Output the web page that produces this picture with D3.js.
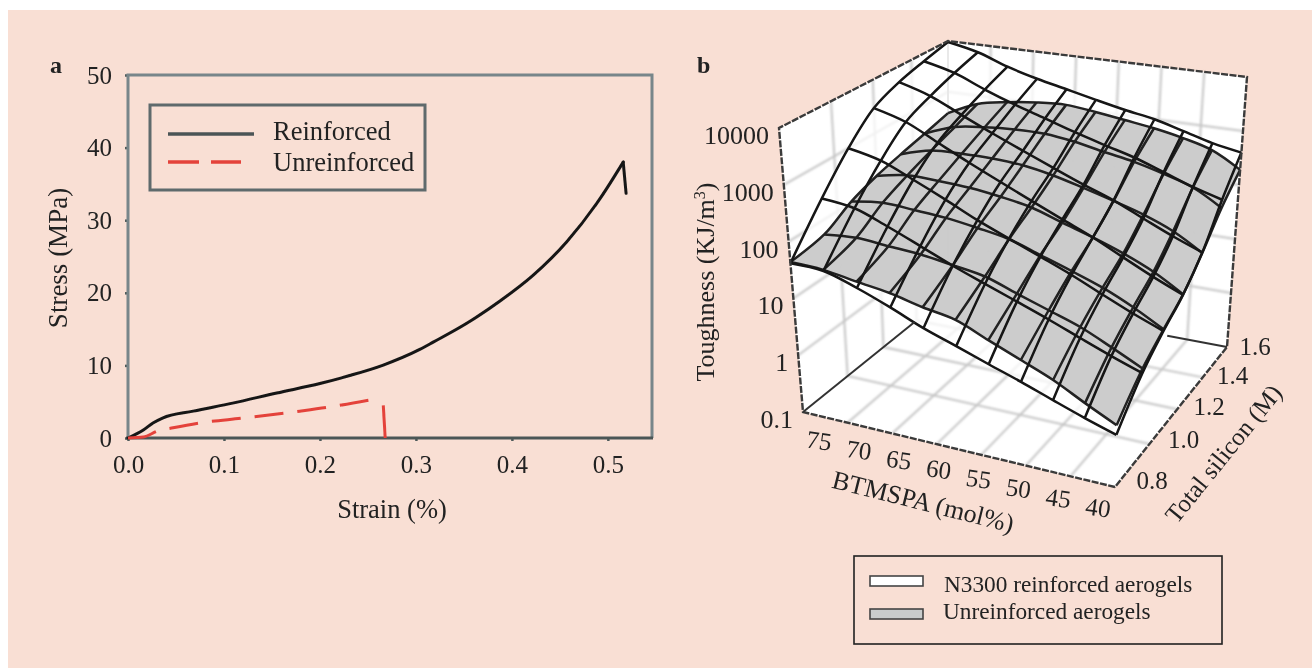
<!DOCTYPE html>
<html>
<head>
<meta charset="utf-8">
<script src="https://cdn.jsdelivr.net/npm/d3@7"></script>
<style>
  html, body { margin: 0; padding: 0; background: #fff; }
  svg { display: block; }
  text { font-family: "Liberation Serif", serif; fill: #222; }
</style>
</head>
<body>
<div id="chart"></div>
<script>
// Panel a: stress-strain curves
const reinforcedStrain = [0, 0.016, 0.026, 0.036, 0.068, 0.109, 0.155, 0.2, 0.231, 0.266, 0.304, 0.318, 0.353, 0.388, 0.422, 0.457, 0.492, 0.516, 0.519];
const reinforcedStress = [0, 1.1, 2.07, 2.75, 3.7, 4.8, 6.2, 7.5, 8.6, 10.05, 12.2, 13.2, 15.8, 18.9, 22.4, 27, 33, 38, 33.7];
const unreinforcedStrain = [0, 0.016, 0.031, 0.047, 0.075, 0.12, 0.179, 0.21, 0.257, 0.266, 0.268];
const unreinforcedStress = [0, 0.14, 0.96, 1.4, 2.07, 2.75, 3.7, 4.27, 5.37, 4.5, 0];
const strainTicks = [0, 0.1, 0.2, 0.3, 0.4, 0.5];
const stressTicks = [0, 10, 20, 30, 40, 50];

// Panel b: response surfaces, log10 of toughness (rows = silicon, columns = BTMSPA)
const btmspaGrid = [75, 71.5, 68, 64.5, 61, 57.5, 54, 50.5, 47, 43.5, 40];
const siliconGrid = [0.8, 0.933, 1.067, 1.2, 1.333, 1.467, 1.6];
const reinforcedLog = [
  [1.62, 1.60, 1.42, 1.20, 0.96, 0.77, 0.58, 0.40, 0.21, 0.03, -0.13],
  [2.39, 2.32, 2.10, 1.86, 1.62, 1.41, 1.21, 1.01, 0.80, 0.60, 0.42],
  [3.00, 2.87, 2.62, 2.36, 2.09, 1.86, 1.64, 1.42, 1.18, 0.95, 0.75],
  [3.47, 3.30, 3.01, 2.73, 2.47, 2.22, 1.98, 1.75, 1.49, 1.24, 1.02],
  [3.70, 3.52, 3.25, 2.99, 2.75, 2.52, 2.30, 2.10, 1.86, 1.63, 1.43],
  [3.85, 3.70, 3.46, 3.25, 3.07, 2.89, 2.73, 2.58, 2.39, 2.20, 2.05],
  [3.98, 3.85, 3.64, 3.48, 3.35, 3.22, 3.10, 3.00, 2.85, 2.70, 2.60]
];
const unreinforcedLog = [
  [1.64, 1.62, 1.53, 1.45, 1.32, 1.22, 0.99, 0.77, 0.55, 0.28, 0.03],
  [1.74, 1.79, 1.75, 1.71, 1.63, 1.54, 1.35, 1.17, 0.99, 0.75, 0.50],
  [2.02, 2.10, 2.07, 2.03, 1.95, 1.85, 1.67, 1.49, 1.30, 1.06, 0.78],
  [2.20, 2.31, 2.30, 2.27, 2.20, 2.10, 1.92, 1.75, 1.56, 1.33, 1.03],
  [2.33, 2.49, 2.52, 2.52, 2.48, 2.38, 2.24, 2.09, 1.93, 1.72, 1.42],
  [2.45, 2.66, 2.74, 2.78, 2.78, 2.71, 2.60, 2.50, 2.36, 2.19, 1.90],
  [2.58, 2.84, 2.95, 3.02, 3.05, 2.99, 2.91, 2.83, 2.72, 2.57, 2.28]
];
const toughnessTicks = [0.1, 1, 10, 100, 1000, 10000];
const toughnessLabels = ["0.1", "1", "10", "100", "1000", "10000"];
const btmspaTicks = [75, 70, 65, 60, 55, 50, 45, 40];
const siliconTicks = [0.8, 1.0, 1.2, 1.4, 1.6];

const width = 1312, height = 668;
const PEACH = "#f9dfd4";

const svg = d3.select("#chart").append("svg")
  .attr("width", width)
  .attr("height", height);

svg.append("rect")
  .attr("x", 8).attr("y", 10)
  .attr("width", width - 8).attr("height", height - 10)
  .attr("fill", PEACH);

const defs = svg.append("defs");
defs.append("filter").attr("id", "soft")
  .append("feGaussianBlur").attr("stdDeviation", 0.5);
defs.append("filter").attr("id", "softer")
  .append("feGaussianBlur").attr("stdDeviation", 1);

drawPanelA();
drawPanelB();

/* 1. Stress-strain plot */
function drawPanelA() {
  const g = svg.append("g").attr("filter", "url(#soft)");

  const x = d3.scaleLinear().domain([0, 0.546]).range([128, 652]);
  const y = d3.scaleLinear().domain([0, 50]).range([438, 75]);

  const xAxis = d3.axisBottom(x).tickValues(strainTicks).tickSize(3).tickPadding(14).tickFormat(d3.format(".1f"));
  const yAxis = d3.axisLeft(y).tickValues(stressTicks).tickSize(3).tickPadding(13);

  g.append("g").attr("transform", "translate(0,438)").call(xAxis)
    .call(a => a.select(".domain").remove());
  g.append("g").attr("transform", "translate(128,0)").call(yAxis)
    .call(a => a.select(".domain").remove());
  g.selectAll(".tick text").attr("font-size", 25).style("font-family", '"Liberation Serif", serif').attr("fill", "#222");
  g.selectAll(".tick line").attr("stroke", "#4e5a5a").attr("stroke-width", 2.5);

  // frame
  g.append("path")
    .attr("d", `M128,438V75H652V438`)
    .attr("fill", "none").attr("stroke", "#78868a").attr("stroke-width", 3);
  g.append("line")
    .attr("x1", 126).attr("x2", 653).attr("y1", 438).attr("y2", 438)
    .attr("stroke", "#4b5656").attr("stroke-width", 3);

  // smooth loading part, straight failure drop
  const smooth = d3.line().x(d => x(d[0])).y(d => y(d[1])).curve(d3.curveMonotoneX);
  const straight = d3.line().x(d => x(d[0])).y(d => y(d[1]));

  const black = d3.zip(reinforcedStrain, reinforcedStress);
  g.append("path")
    .attr("d", smooth(black.slice(0, -1)))
    .attr("fill", "none").attr("stroke", "#161616").attr("stroke-width", 3)
    .attr("stroke-linecap", "round");
  g.append("path")
    .attr("d", straight(black.slice(-2)))
    .attr("fill", "none").attr("stroke", "#161616").attr("stroke-width", 3)
    .attr("stroke-linecap", "round");

  const red = d3.zip(unreinforcedStrain, unreinforcedStress);
  g.append("path")
    .attr("d", smooth(red.slice(0, -2)))
    .attr("fill", "none").attr("stroke", "#e4433a").attr("stroke-width", 3)
    .attr("stroke-dasharray", "29 14");
  g.append("path")
    .attr("d", straight(red.slice(-2)))
    .attr("fill", "none").attr("stroke", "#e4433a").attr("stroke-width", 3);

  // legend
  g.append("rect")
    .attr("x", 150).attr("y", 105).attr("width", 275).attr("height", 85)
    .attr("fill", "none").attr("stroke", "#5f6a6c").attr("stroke-width", 3);
  g.append("line")
    .attr("x1", 168).attr("x2", 254).attr("y1", 134).attr("y2", 134)
    .attr("stroke", "#4c5456").attr("stroke-width", 3.5);
  g.append("line")
    .attr("x1", 168).attr("x2", 241).attr("y1", 162).attr("y2", 162)
    .attr("stroke", "#e4433a").attr("stroke-width", 3.5)
    .attr("stroke-dasharray", "31 12");

  addText(g, "Reinforced", 273, 140, 26.5);
  addText(g, "Unreinforced", 273, 171, 26.5);
  addText(g, "Strain (%)", 392, 518, 26.5, "middle");
  addText(g, "Stress (MPa)", 67, 258, 27, "middle", "rotate(-90 67 258)");
  addText(g, "a", 50, 73, 24, "start").attr("font-weight", "bold");
}

/* 2. 3D surface plot */
function drawPanelB() {
  const g = svg.append("g").attr("filter", "url(#soft)");

  // box corners on screen: floor and ceiling, [front-left, front-right, back-right, back-left]
  const floor = [[803, 412], [1115, 487], [1227, 347], [948, 295]];
  const ceil = [[779, 128], [1123, 187], [1247, 77], [948, 41]];

  const uScale = d3.scaleLinear().domain([75, 40]).range([0, 1]);
  const vScale = d3.scalePow().exponent(0.85).domain([0, 0.8]).range([0, 1]);
  const wScale = d3.scaleLinear().domain([-1, 4]).range([0, 1]);

  const mix = (a, b, t) => [a[0] + (b[0] - a[0]) * t, a[1] + (b[1] - a[1]) * t];

  function project(btmspa, silicon, logT) {
    const u = uScale(btmspa), v = vScale(silicon - 0.8), w = wScale(logT);
    const low = mix(mix(floor[0], floor[1], u), mix(floor[3], floor[2], u), v);
    const high = mix(mix(ceil[0], ceil[1], u), mix(ceil[3], ceil[2], u), v);
    return mix(low, high, w);
  }

  const line = d3.line();
  const SI0 = 0.8, SI1 = 1.6, B0 = 75, B1 = 40, Z0 = -1, Z1 = 4;

  // walls and floor
  g.append("path")
    .attr("d", line([floor[0], ceil[0], ceil[3], ceil[2], floor[2], floor[1]]) + "Z")
    .attr("fill", "#fff");

  const grid = g.append("g").attr("fill", "none").attr("stroke", "#c4c4c4").attr("stroke-width", 2).attr("filter", "url(#softer)");
  btmspaTicks.slice(1, -1).forEach(b => {
    grid.append("path").attr("d", line([project(b, SI0, Z0), project(b, SI1, Z0), project(b, SI1, Z1)]));
  });
  siliconTicks.slice(1, -1).forEach(s => {
    grid.append("path").attr("d", line([project(B1, s, Z0), project(B0, s, Z0), project(B0, s, Z1)]));
  });
  toughnessTicks.slice(1, -1).forEach(t => {
    const z = Math.log10(t);
    grid.append("path").attr("d", line([project(B0, SI0, z), project(B0, SI1, z), project(B1, SI1, z)]));
  });

  // back corner edge sits behind both surfaces
  g.append("path")
    .attr("d", line([floor[3], ceil[3]]))
    .attr("stroke", "#a8a8a8").attr("stroke-width", 2).attr("fill", "none");

  // reinforced surface, translucent white
  drawCells(g, reinforcedLog, "#fff", 0.75);
  // unreinforced surface
  drawCells(g, unreinforcedLog, "#c8c8c8", 0.92);

  drawWires(g, unreinforcedLog, "#202020");
  drawWires(g, reinforcedLog, "#141414");

  // box outline
  g.append("path")
    .attr("d", line([floor[1], floor[0], ceil[0], ceil[3], ceil[2], floor[2], floor[1]]))
    .attr("fill", "none").attr("stroke", "#3a3a3a").attr("stroke-width", 2.4)
    .attr("stroke-dasharray", "7 1.5");
  g.append("path")
    .attr("d", line([floor[0], project(B0, 1.39, Z0)]))
    .attr("fill", "none").attr("stroke", "#333").attr("stroke-width", 2);
  g.append("path")
    .attr("d", line([floor[2], project(47.5, SI1, Z0)]))
    .attr("fill", "none").attr("stroke", "#333").attr("stroke-width", 2);

  function drawCells(parent, rows, color, opacity) {
    const cells = [];
    for (let j = 0; j < siliconGrid.length - 1; j++) {
      for (let i = 0; i < btmspaGrid.length - 1; i++) {
        cells.push([
          project(btmspaGrid[i], siliconGrid[j], rows[j][i]),
          project(btmspaGrid[i + 1], siliconGrid[j], rows[j][i + 1]),
          project(btmspaGrid[i + 1], siliconGrid[j + 1], rows[j + 1][i + 1]),
          project(btmspaGrid[i], siliconGrid[j + 1], rows[j + 1][i])
        ]);
      }
    }
    // one compound path so cell seams do not double the opacity
    parent.append("path")
      .attr("d", cells.map(c => line(c) + "Z").join(""))
      .attr("fill", color).attr("fill-opacity", opacity).attr("stroke", "none");
  }

  function drawWires(parent, rows, color) {
    const curve = d3.line().curve(d3.curveCatmullRom);
    const wires = parent.append("g").attr("fill", "none").attr("stroke", color).attr("stroke-width", 2.5);
    siliconGrid.forEach((s, j) => {
      wires.append("path").attr("d", curve(btmspaGrid.map((b, i) => project(b, s, rows[j][i]))));
    });
    btmspaGrid.forEach((b, i) => {
      wires.append("path").attr("d", curve(siliconGrid.map((s, j) => project(b, s, rows[j][i]))));
    });
  }

  // tick labels follow the box edges
  toughnessTicks.forEach((t, i) => {
    const p = project(B0, SI0, Math.log10(t));
    addText(g, toughnessLabels[i], p[0] - 10, p[1] + 16, 26, "end");
  });
  btmspaTicks.forEach(b => {
    const u = uScale(b);
    const p = project(b, SI0, Z0);
    const lx = p[0] + 15 - 33 * u, ly = p[1] + 37 - 8 * u;
    addText(g, String(b), lx, ly, 25, "middle", `rotate(8 ${lx} ${ly})`);
  });
  siliconTicks.forEach(s => {
    const v = vScale(s - 0.8);
    const p = project(B1, s, Z0);
    addText(g, s.toFixed(1), p[0] + 37 - 9 * v, p[1] + 2 + 6 * v, 25, "middle");
  });

  const tough = addText(g, "Toughness (KJ/m", 714, 282, 26, "middle", "rotate(-90 714 282)");
  tough.append("tspan").attr("font-size", 16).attr("dy", -9).text("3");
  tough.append("tspan").attr("dy", 9).text(")");

  addText(g, "BTMSPA (mol%)", 921, 510, 26, "middle", "rotate(14 921 510)");
  addText(g, "Total silicon (M)", 1230, 459, 25, "middle", "rotate(-51 1230 459)");
  addText(g, "b", 697, 73, 24, "start").attr("font-weight", "bold");

  // legend
  g.append("rect")
    .attr("x", 854).attr("y", 556).attr("width", 368).attr("height", 88)
    .attr("fill", "none").attr("stroke", "#222").attr("stroke-width", 1.6);
  g.append("rect")
    .attr("x", 870).attr("y", 576).attr("width", 53).attr("height", 10)
    .attr("fill", "#fff").attr("stroke", "#444").attr("stroke-width", 1.6);
  g.append("rect")
    .attr("x", 870).attr("y", 609).attr("width", 53).attr("height", 10)
    .attr("fill", "#c9cccc").attr("stroke", "#444").attr("stroke-width", 1.6);
  addText(g, "N3300 reinforced aerogels", 944, 592, 23.3);
  addText(g, "Unreinforced aerogels", 943, 619, 23.3);
}

function addText(parent, str, x, y, size, anchor, transform) {
  return parent.append("text")
    .attr("x", x).attr("y", y)
    .attr("font-size", size)
    .attr("text-anchor", anchor || "start")
    .attr("transform", transform || null)
    .text(str);
}
</script>
</body>
</html>
